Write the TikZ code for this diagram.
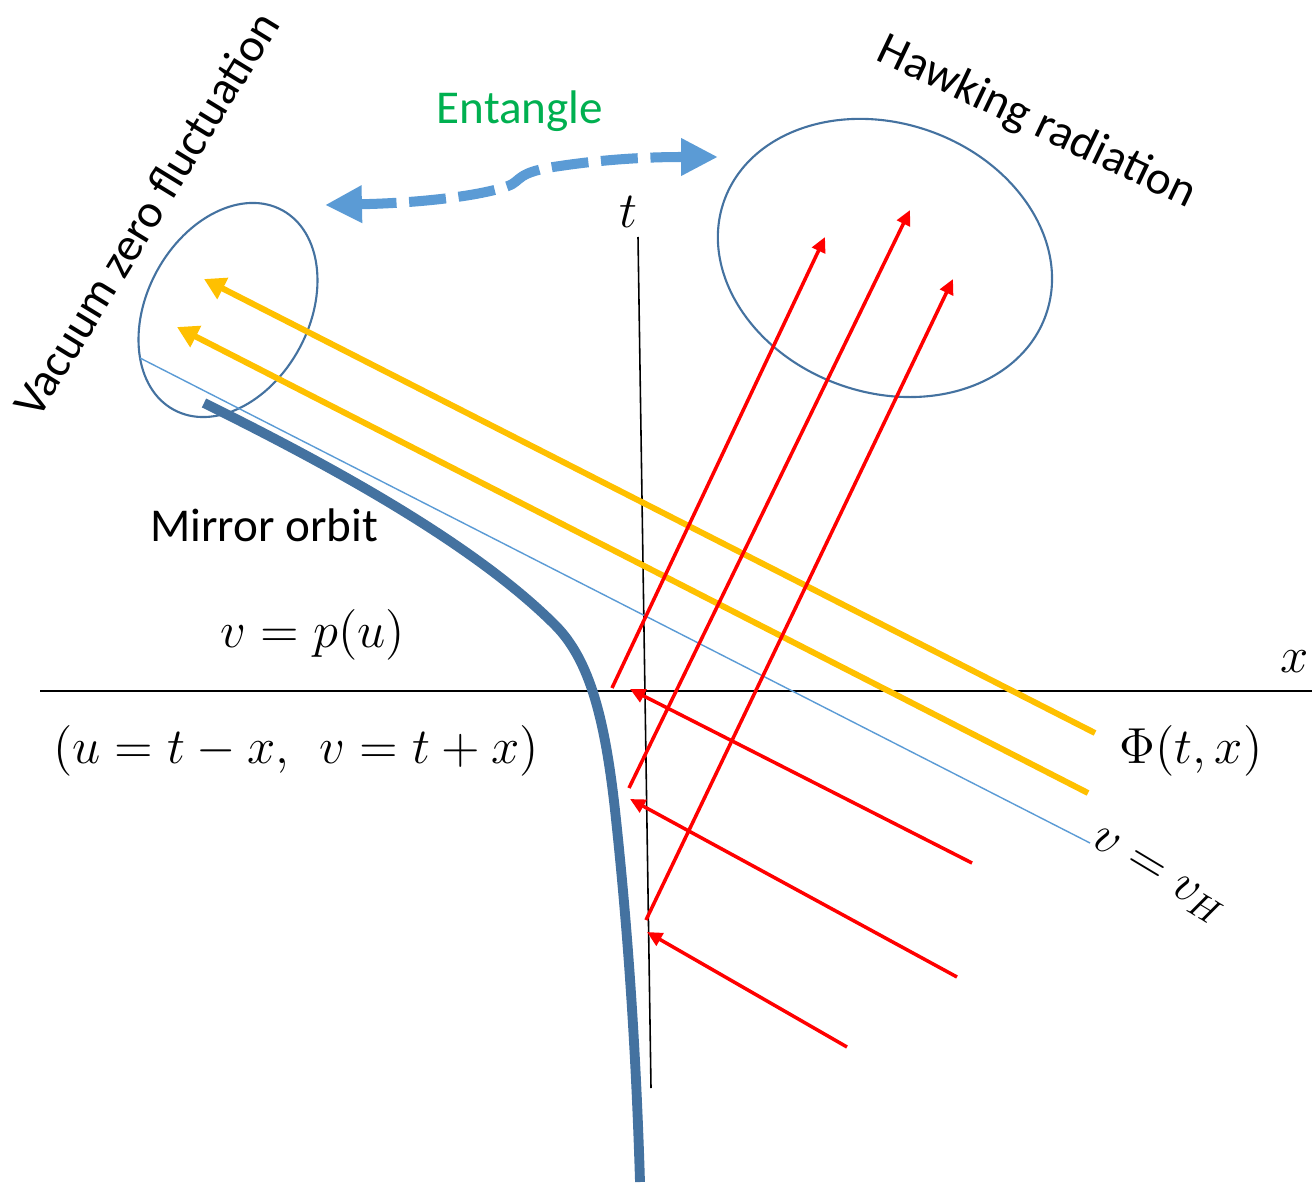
\documentclass[tikz,border=0pt]{standalone}
\usepackage{fontspec}
\setmainfont{Carlito}
\usetikzlibrary{arrows.meta}
\definecolor{mirror}{RGB}{68,114,160}
\definecolor{lblue}{RGB}{91,155,213}
\definecolor{gold}{RGB}{255,192,0}
\definecolor{egreen}{RGB}{0,176,80}
\definecolor{rred}{RGB}{255,0,0}
\begin{document}
\begin{tikzpicture}[x=0.01cm,y=-0.01cm,
  lbl/.style={font=\fontsize{13.4}{16}\selectfont, inner sep=0pt},
  mth/.style={font=\fontsize{14}{17}\selectfont, inner sep=0pt},
  axisline/.style={line width=0.45pt, black},
  yarrow/.style={gold, line width=1.7pt, -{Triangle[length=6pt,width=6.5pt]}},
  rarrow/.style={rred, line width=1pt, -{Triangle[length=4.3pt,width=4pt]}},
  orbit/.style={mirror, line width=2.8pt},
  ring/.style={mirror, line width=0.6pt},
  horizon/.style={lblue, line width=0.4pt},
  entarrow/.style={lblue, line width=2.85pt, dash pattern=on 10.5pt off 3.6pt,
     {Triangle[length=10.5pt,width=10pt]}-{Triangle[length=10.5pt,width=10pt]}}]
\useasboundingbox (0,0) rectangle (1312,1185);

% axes
\coordinate (xa0) at (40,691);
\coordinate (xa1) at (1312,691);
\coordinate (ta0) at (638,237);
\coordinate (ta1) at (651,1088);
\draw[axisline] (xa0) -- (xa1);
\draw[axisline] (ta0) -- (ta1);
\node[mth] (xlab) at (1295,662) {$x$};
\node[mth] (tlab) at (628,212) {$t$};

% ellipses
\coordinate (E1) at (228,310);
\coordinate (E2) at (885,258);
\draw[ring, rotate around={-28.5:(E1)}] (E1) ellipse [x radius=0.81cm, y radius=1.135cm];
\draw[ring, rotate around={-19.5:(E2)}] (E2) ellipse [x radius=1.706cm, y radius=1.345cm];

% horizon line
\coordinate (h0) at (140,358);
\coordinate (h1) at (1090,843);
\draw[horizon] (h0) -- (h1);

% mirror orbit
\coordinate (m0) at (204,403);
\coordinate (m3) at (640,1182);
\draw[orbit] (m0) .. controls (350,475) and (480,550) .. (555,625)
   .. controls (590,660) and (605,720) .. (615,810)
   .. controls (628,930) and (636,1050) .. (m3);

% yellow arrows
\coordinate (y1s) at (1095,733);
\coordinate (y1e) at (204,279);
\coordinate (y2s) at (1088,793);
\coordinate (y2e) at (177,327);
\draw[yarrow] (y1s) -- (y1e);
\draw[yarrow] (y2s) -- (y2e);

% red reflected rays
\coordinate (ra0) at (612,688);
\coordinate (ra1) at (825,237);
\coordinate (rb0) at (629,788);
\coordinate (rb1) at (910,210);
\coordinate (rc0) at (646,920);
\coordinate (rc1) at (953,279);
\draw[rarrow] (ra0) -- (ra1);
\draw[rarrow] (rb0) -- (rb1);
\draw[rarrow] (rc0) -- (rc1);
% red incoming rays
\coordinate (rd0) at (972,863);
\coordinate (rd1) at (630,689);
\coordinate (re0) at (957,977);
\coordinate (re1) at (630,799);
\coordinate (rf0) at (847,1047);
\coordinate (rf1) at (647,932);
\draw[rarrow] (rd0) -- (rd1);
\draw[rarrow] (re0) -- (re1);
\draw[rarrow] (rf0) -- (rf1);

% entangle arrow
\coordinate (ea0) at (325,205);
\coordinate (ea1) at (718,157);
\draw[entarrow] (ea0) .. controls (420,203) and (480,196) .. (508,186)
   .. controls (522,181) and (515,172) .. (560,166)
   .. controls (620,157) and (670,157) .. (ea1);

% labels
\node[lbl, text=egreen, anchor=base] (ent) at (520,124) {Entangle};
\node[lbl, anchor=base, rotate=-25.5] (hawk) at (1031,134) {Hawking radiation};
\node[lbl, rotate=58.5] (vac) at (146,214) {Vacuum zero fluctuation};
\node[lbl, anchor=base] (mir) at (264,541) {Mirror orbit};
\node[mth, anchor=base] (pu) at (313,647) {$v=p(u)$};
\node[mth, anchor=base] (uv) at (296,763) {$(u=t-x,\;\,v=t+x)$};
\node[mth, anchor=base] (phi) at (1191,763) {$\Phi(t,x)$};
\node[mth, rotate=-31] (vh) at (1158,877) {$v=v_H$};
\end{tikzpicture}
\end{document}
